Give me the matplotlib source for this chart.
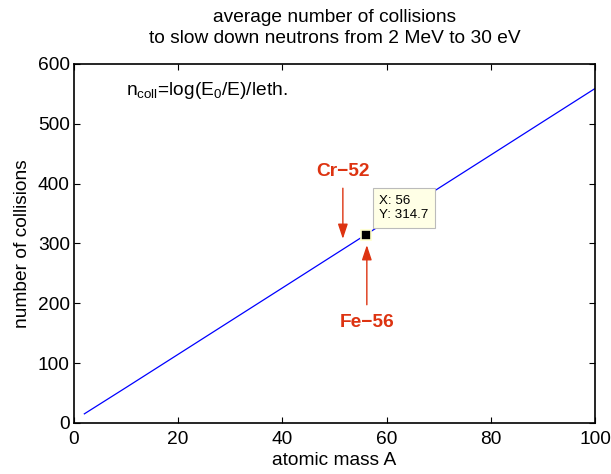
import matplotlib.pyplot as plt
import numpy as np

plt.rcParams['font.family'] = ['Liberation Sans', 'DejaVu Sans']

# values
mass_a = [2, 10, 20, 30, 40, 50, 56, 60, 70, 80, 90, 100]
n_coll = [15.3, 59.3, 114.8, 170.3, 225.8, 281.4, 314.7, 336.9, 392.5, 448.0, 503.6, 559.1]
tip_x = 56
tip_y = 314.7

red = '#dd3311'
fs = 13.8

fig = plt.figure(figsize=(6.11, 4.74), dpi=100)
ax = fig.add_axes([0.121, 0.1076, 0.853, 0.7574])

ax.plot(mass_a, n_coll, color='blue', lw=0.9)
ax.plot(tip_x, tip_y, 's', color='black', ms=7, mec='#ffffcc', mew=1.2)

ax.annotate('X: {}\nY: {}'.format(tip_x, tip_y), xy=(58.6, 359), ha='left', va='center',
            fontsize=9.6, linespacing=1.25,
            bbox=dict(boxstyle='square,pad=0.5', fc='#ffffe6', ec='#bbbbbb', lw=0.8))

ax.annotate('', xy=(51.6, 303), xytext=(51.6, 397),
            arrowprops=dict(arrowstyle='-|>,head_length=0.9,head_width=0.3', color=red, lw=1))
ax.text(51.6, 421, 'Cr\u221252', color=red, fontsize=fs, fontweight='bold', ha='center', va='center')
ax.annotate('', xy=(56.2, 302), xytext=(56.2, 193),
            arrowprops=dict(arrowstyle='-|>,head_length=0.9,head_width=0.3', color=red, lw=1))
ax.text(56.2, 168, 'Fe\u221256', color=red, fontsize=fs, fontweight='bold', ha='center', va='center')

ax.text(10, 548, r'n$_{\mathregular{coll}}$=log(E$_{\mathregular{0}}$/E)/leth.', fontsize=fs, va='baseline')

ax.set_xlim(0, 100)
ax.set_ylim(0, 600)
ax.set_xticks(np.arange(0, 101, 20))
ax.set_yticks(np.arange(0, 601, 100))
ax.tick_params(direction='in', top=True, right=True, labelsize=fs, length=4, width=0.8, pad=3)
ax.tick_params(axis='x', pad=6)
for s in ax.spines.values():
    s.set_linewidth(1.2)

ax.set_xlabel('atomic mass A', fontsize=fs, labelpad=3)
ax.set_ylabel('number of collisions', fontsize=fs, labelpad=5)
ax.set_title('average number of collisions\nto slow down neutrons from 2 MeV to 30 eV',
             fontsize=fs, pad=15, linespacing=1.3)

fig.savefig('out.png', dpi=100)
